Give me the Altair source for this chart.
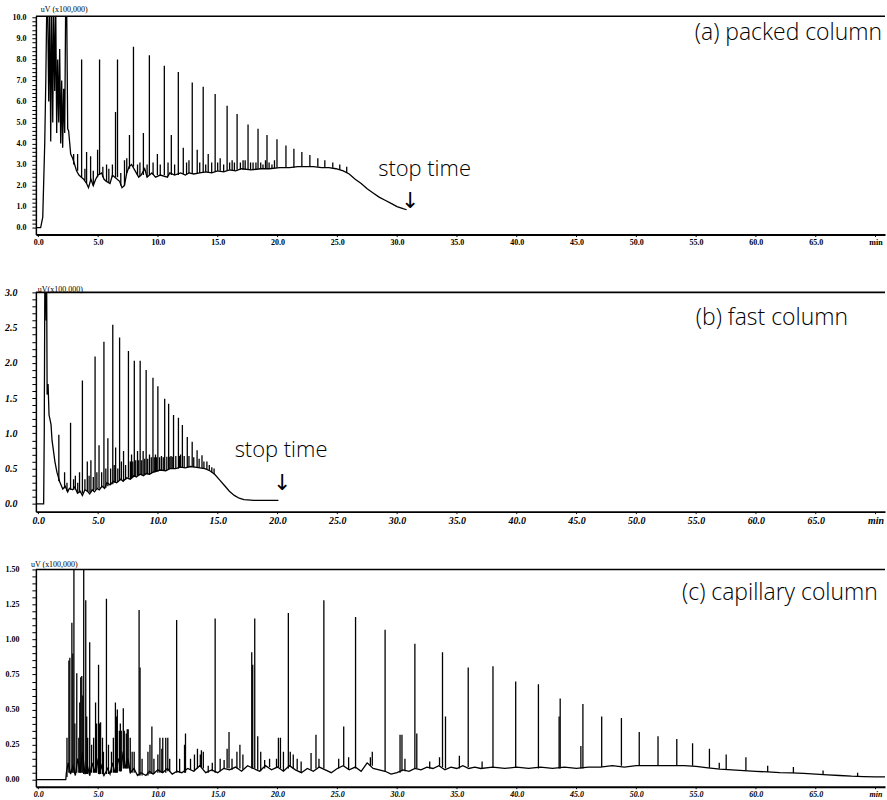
import altair as alt
import pandas as pd

# ---------------- shared x axis ----------------
X_TICKS = [0, 5, 10, 15, 20, 25, 30, 35, 40, 45, 50, 55, 60, 65, 70]
X_DOMAIN = [-0.2, 70.8]
W = 852

# ---------------- (a) packed column ----------------
A_TRACE = [(-0.2, 0.0), (0.2, 0.0), (0.375, 0.5), (0.54, 4.0), (0.63, 7.0), (0.71, 10.5), (0.79, 10.5),
           (0.875, 6.0), (0.96, 10.5), (1.04, 4.1), (1.125, 10.5), (1.21, 5.0), (1.29, 10.5), (1.375, 6.5),
           (1.46, 10.5), (1.54, 4.5), (1.625, 8.0), (1.71, 5.0), (1.79, 8.5), (1.875, 4.0), (1.96, 7.0),
           (2.04, 3.8), (2.125, 6.6), (2.21, 4.5), (2.29, 10.5), (2.375, 10.5), (2.46, 4.7), (2.54, 4.6),
           (2.71, 3.5), (2.875, 3.3), (3.04, 3.0), (3.2, 2.7), (3.4, 2.5), (3.6, 2.4), (3.8, 2.3), (4.04, 2.1),
           (4.2, 1.9), (4.4, 2.3), (4.6, 2.0), (4.8, 2.3), (5.0, 2.5), (5.3, 2.6), (5.5, 2.3), (5.7, 2.2),
           (6.0, 2.1), (6.2, 2.5), (6.4, 2.4), (6.8, 2.2), (7.0, 1.9), (7.2, 2.0), (7.4, 2.6), (7.6, 2.9),
           (7.8, 3.0), (8.1, 2.7), (8.4, 2.4), (8.6, 2.5), (8.9, 2.8), (9.1, 2.4), (9.5, 2.6), (9.8, 2.4),
           (10.2, 2.5), (10.8, 2.4), (11.0, 2.6), (11.4, 2.5), (11.9, 2.6), (12.3, 2.5), (12.6, 2.6),
           (13.0, 2.55), (13.5, 2.6), (14.0, 2.65), (14.5, 2.6), (15.0, 2.7), (15.5, 2.65), (16.0, 2.75),
           (16.5, 2.7), (17.0, 2.8), (17.8, 2.75), (18.6, 2.8), (19.3, 2.8), (20.2, 2.85), (21.0, 2.85),
           (21.7, 2.9), (22.4, 2.9), (23.0, 2.9), (23.7, 2.85), (24.3, 2.85), (24.9, 2.8), (25.5, 2.7),
           (26.0, 2.55), (26.5, 2.3), (27.0, 2.1), (27.5, 1.85), (28.0, 1.65), (28.5, 1.45), (29.0, 1.3),
           (29.5, 1.15), (30.0, 1.0), (30.5, 0.9), (30.8, 0.85)]
# (retention time, peak top, peak base)
A_PEAKS = [(2.96, 3.5, 3.0), (3.29, 3.5, 2.7), (3.625, 8.0, 2.4), (4.04, 3.6, 2.1), (4.375, 3.4, 2.2),
           (4.96, 3.7, 2.4), (5.125, 8.0, 2.5), (5.71, 3.0, 2.2), (6.2, 3.0, 2.4), (6.46, 5.5, 2.4),
           (6.625, 8.0, 2.4), (7.21, 3.2, 2.0), (7.625, 4.4, 2.8), (7.96, 8.6, 2.9), (8.79, 4.5, 2.5),
           (9.29, 8.2, 2.5), (9.96, 3.5, 2.5), (10.54, 7.7, 2.5), (11.125, 4.4, 2.5), (11.71, 7.4, 2.5),
           (12.125, 3.8, 2.55), (12.875, 6.9, 2.6), (13.29, 3.7, 2.6), (13.79, 6.7, 2.6), (14.21, 3.5, 2.6),
           (14.79, 6.35, 2.65), (15.21, 3.3, 2.7), (15.79, 5.8, 2.7), (16.21, 3.2, 2.7), (16.625, 5.4, 2.75),
           (17.125, 3.2, 2.75), (17.54, 4.9, 2.75), (17.96, 3.1, 2.75), (18.375, 4.7, 2.8), (18.79, 3.0, 2.8),
           (19.125, 4.4, 2.8), (19.54, 3.0, 2.8), (19.96, 4.2, 2.85), (20.71, 3.9, 2.85), (21.375, 3.75, 2.85),
           (22.04, 3.6, 2.9), (22.71, 3.45, 2.9), (23.375, 3.3, 2.9), (23.96, 3.2, 2.85), (24.625, 3.1, 2.85),
           (25.21, 3.0, 2.75), (25.79, 2.9, 2.6),
           # small baseline peaks
           (3.9, 2.8, 2.25), (4.6, 2.7, 2.0), (5.4, 2.9, 2.4), (5.9, 2.8, 2.15), (6.9, 2.6, 2.0),
           (7.4, 3.3, 2.6), (8.3, 3.0, 2.5), (8.5, 3.1, 2.45), (9.1, 3.0, 2.4), (9.6, 3.1, 2.5),
           (10.2, 3.0, 2.5), (10.85, 3.1, 2.45), (11.4, 3.0, 2.5), (12.4, 3.1, 2.55), (12.6, 3.2, 2.6),
           (13.5, 3.1, 2.6), (14.0, 3.0, 2.65), (14.5, 3.1, 2.6), (15.0, 3.1, 2.7), (15.5, 3.0, 2.65),
           (16.0, 3.1, 2.75), (16.4, 3.1, 2.7), (16.9, 3.1, 2.75), (17.3, 3.2, 2.78), (17.75, 3.1, 2.75),
           (18.2, 3.1, 2.78), (18.6, 3.1, 2.8), (19.0, 3.2, 2.8), (19.3, 3.1, 2.8), (19.75, 3.2, 2.82)]
A_Y_TICKS = [round(i * 0.2, 1) for i in range(51)]

# ---------------- (b) fast column ----------------
B_TRACE = [(-0.2, 0.0), (0.45, 0.0), (0.5, 1.0), (0.55, 3.2), (0.62, 3.2), (0.66, 2.6), (0.7, 3.2),
           (0.74, 1.55), (0.82, 1.7), (0.9, 1.26), (0.98, 1.2), (1.07, 1.12), (1.15, 0.9), (1.25, 0.78),
           (1.39, 0.6), (1.56, 0.45), (1.8, 0.31), (2.05, 0.21), (2.25, 0.25), (2.46, 0.17), (2.6, 0.22),
           (2.87, 0.2), (3.05, 0.24), (3.28, 0.15), (3.5, 0.18), (3.69, 0.12), (3.9, 0.2), (4.1, 0.18),
           (4.3, 0.14), (4.51, 0.2), (4.7, 0.17), (4.92, 0.22), (5.1, 0.2), (5.33, 0.25), (5.55, 0.22),
           (5.74, 0.3), (6.0, 0.27), (6.3, 0.32), (6.56, 0.3), (6.9, 0.35), (7.1, 0.32), (7.38, 0.37),
           (7.7, 0.35), (8.0, 0.4), (8.2, 0.38), (8.5, 0.42), (8.8, 0.4), (9.02, 0.43), (9.3, 0.42),
           (9.6, 0.45), (9.84, 0.46), (10.2, 0.48), (10.66, 0.47), (11.0, 0.5), (11.48, 0.5), (11.9, 0.52),
           (12.3, 0.51), (12.7, 0.53), (13.1, 0.52), (13.5, 0.51), (13.93, 0.5), (14.34, 0.47), (14.75, 0.42),
           (15.16, 0.34), (15.57, 0.26), (15.98, 0.18), (16.39, 0.12), (16.8, 0.08), (17.2, 0.06),
           (18.03, 0.05), (20.08, 0.05)]
B_PEAKS = [(1.72, 0.98, 0.32), (2.2, 0.45, 0.22), (2.7, 1.15, 0.2), (3.1, 0.4, 0.2), (3.45, 0.45, 0.16),
           (3.69, 1.75, 0.15), (4.1, 0.6, 0.18), (4.4, 0.62, 0.16), (4.75, 2.09, 0.2), (5.08, 0.83, 0.22),
           (5.49, 2.3, 0.24), (5.82, 0.93, 0.25), (6.23, 2.54, 0.28), (6.47, 0.8, 0.3), (6.8, 2.36, 0.33),
           (7.13, 0.75, 0.33), (7.54, 2.17, 0.37), (7.8, 0.7, 0.36), (8.03, 2.03, 0.38), (8.3, 0.75, 0.4),
           (8.52, 2.03, 0.41), (8.77, 0.75, 0.41), (9.02, 1.9, 0.43), (9.3, 0.7, 0.42), (9.59, 1.79, 0.44),
           (9.8, 0.7, 0.45), (10.0, 1.67, 0.46), (10.3, 0.68, 0.47), (10.57, 1.49, 0.47), (10.9, 1.42, 0.48),
           (11.1, 0.68, 0.5), (11.31, 1.26, 0.5), (11.72, 1.22, 0.5), (11.9, 0.7, 0.52), (12.05, 1.12, 0.52),
           (12.46, 0.95, 0.51), (12.87, 0.88, 0.53), (13.28, 0.76, 0.52), (13.69, 0.69, 0.51),
           (14.1, 0.6, 0.49), (14.51, 0.52, 0.45),
           # small baseline peaks
           (2.4, 0.3, 0.18), (2.95, 0.35, 0.2), (3.3, 0.3, 0.15), (3.9, 0.35, 0.2), (4.25, 0.4, 0.16),
           (4.6, 0.38, 0.18), (4.9, 0.45, 0.22), (5.3, 0.45, 0.24), (5.65, 0.5, 0.23), (6.05, 0.5, 0.27),
           (6.35, 0.55, 0.3), (6.65, 0.5, 0.31), (6.95, 0.6, 0.34), (7.3, 0.55, 0.34), (7.7, 0.6, 0.35),
           (7.9, 0.6, 0.37), (8.15, 0.62, 0.38), (8.4, 0.62, 0.4), (8.65, 0.62, 0.41), (8.9, 0.64, 0.41),
           (9.15, 0.64, 0.42), (9.45, 0.66, 0.43), (9.7, 0.66, 0.45), (9.9, 0.66, 0.46), (10.15, 0.66, 0.47),
           (10.45, 0.66, 0.47), (10.75, 0.67, 0.48), (11.0, 0.67, 0.5), (11.2, 0.67, 0.5), (11.5, 0.68, 0.5),
           (11.8, 0.68, 0.52), (12.2, 0.68, 0.51), (12.6, 0.68, 0.52), (13.0, 0.66, 0.52), (13.45, 0.64, 0.51),
           (13.85, 0.6, 0.5), (14.3, 0.55, 0.47), (14.7, 0.5, 0.42)]
B_Y_TICKS = [round(i * 0.1, 1) for i in range(31)]

# ---------------- (c) capillary column ----------------
C_TRACE = [(-0.2, 0.0), (2.3, 0.0), (2.35, 0.05), (2.5, 0.12), (2.7, 0.04), (2.9, 0.1), (3.1, 0.03),
           (3.3, 0.15), (3.5, 0.05), (3.7, 0.2), (3.9, 0.04), (4.1, 0.1), (4.3, 0.03), (4.5, 0.12), (4.7, 0.05),
           (4.9, 0.15), (5.1, 0.04), (5.3, 0.1), (5.5, 0.03), (5.8, 0.08), (6.0, 0.04), (6.2, 0.12),
           (6.4, 0.05), (6.7, 0.15), (6.9, 0.06), (7.1, 0.2), (7.3, 0.08), (7.5, 0.15), (7.7, 0.05),
           (8.0, 0.08), (8.3, 0.03), (8.6, 0.05), (9.0, 0.03), (9.3, 0.06), (9.6, 0.04), (10.0, 0.07),
           (10.4, 0.05), (10.8, 0.08), (11.2, 0.04), (11.6, 0.06), (12.0, 0.05), (12.5, 0.08), (13.0, 0.06),
           (13.5, 0.1), (14.0, 0.05), (14.5, 0.07), (15.0, 0.05), (15.5, 0.08), (16.0, 0.07), (16.5, 0.09),
           (17.0, 0.06), (17.5, 0.1), (18.0, 0.08), (18.5, 0.06), (19.0, 0.1), (19.5, 0.07), (20.0, 0.09),
           (20.5, 0.06), (21.0, 0.1), (21.5, 0.07), (22.0, 0.05), (22.5, 0.08), (23.0, 0.06), (23.5, 0.09),
           (24.0, 0.07), (24.5, 0.05), (25.0, 0.08), (25.5, 0.1), (26.0, 0.07), (26.5, 0.09), (27.0, 0.06),
           (27.5, 0.12), (28.0, 0.08), (28.5, 0.07), (29.0, 0.06), (29.5, 0.04), (30.0, 0.05), (30.5, 0.07),
           (31.0, 0.06), (31.5, 0.08), (32.0, 0.07), (32.5, 0.09), (33.0, 0.08), (33.5, 0.1), (34.0, 0.07),
           (34.5, 0.09), (35.0, 0.08), (35.5, 0.1), (36.0, 0.08), (36.5, 0.09), (37.0, 0.08), (38.0, 0.09),
           (39.0, 0.08), (40.0, 0.09), (41.0, 0.08), (42.0, 0.09), (43.0, 0.08), (44.0, 0.09), (45.0, 0.08),
           (46.0, 0.09), (47.0, 0.09), (48.0, 0.1), (49.0, 0.09), (50.0, 0.1), (51.0, 0.1), (52.0, 0.1),
           (53.0, 0.1), (54.0, 0.1), (55.0, 0.095), (56.0, 0.085), (57.0, 0.075), (58.0, 0.07), (59.0, 0.065),
           (60.0, 0.06), (61.0, 0.055), (62.0, 0.05), (63.0, 0.048), (64.0, 0.045), (65.0, 0.04),
           (66.0, 0.035), (67.0, 0.03), (68.0, 0.025), (69.0, 0.022), (70.0, 0.02), (70.8, 0.02)]
C_PEAKS = [(2.4, 0.3, 0.02), (2.56, 0.85, 0.05), (2.64, 0.87, 0.05), (2.81, 1.12, 0.05), (2.89, 0.9, 0.05),
           (2.98, 1.6, 0.05), (3.06, 0.4, 0.04), (3.22, 0.76, 0.05), (3.39, 0.3, 0.05), (3.47, 0.55, 0.05),
           (3.55, 0.73, 0.05), (3.64, 0.74, 0.05), (3.72, 0.6, 0.05), (3.8, 1.6, 0.04), (3.97, 1.28, 0.04),
           (4.05, 0.45, 0.04), (4.13, 0.3, 0.04), (4.3, 0.98, 0.03), (4.46, 0.25, 0.05), (4.63, 0.3, 0.05),
           (4.79, 0.55, 0.05), (4.88, 0.4, 0.05), (5.04, 0.82, 0.04), (5.12, 0.4, 0.04), (5.21, 0.41, 0.04),
           (5.37, 0.3, 0.04), (5.45, 0.2, 0.03), (5.7, 1.29, 0.04), (5.87, 0.25, 0.04), (6.12, 0.2, 0.05),
           (6.28, 0.3, 0.05), (6.45, 0.55, 0.05), (6.53, 0.45, 0.05), (6.61, 0.5, 0.05), (6.78, 0.35, 0.06),
           (6.86, 0.4, 0.06), (6.94, 0.35, 0.06), (7.11, 0.51, 0.08), (7.19, 0.35, 0.08), (7.36, 0.33, 0.08),
           (7.44, 0.36, 0.08), (7.52, 0.36, 0.08), (7.69, 0.3, 0.05), (7.85, 0.2, 0.05), (8.02, 0.2, 0.05),
           (8.43, 1.21, 0.03), (8.51, 0.8, 0.03), (8.68, 0.15, 0.03), (9.17, 0.2, 0.03), (9.34, 0.25, 0.04),
           (9.5, 0.38, 0.04), (9.67, 0.15, 0.04), (10.0, 0.18, 0.05), (10.17, 0.3, 0.05), (10.33, 0.22, 0.05),
           (10.41, 0.3, 0.05), (10.66, 0.3, 0.05), (10.83, 0.3, 0.06), (10.99, 0.15, 0.06), (11.57, 1.14, 0.05),
           (11.82, 0.15, 0.05), (12.23, 0.25, 0.05), (12.31, 0.33, 0.05), (12.73, 0.15, 0.07),
           (13.06, 0.18, 0.06), (13.31, 0.22, 0.08), (13.55, 0.18, 0.09), (13.64, 0.21, 0.09),
           (13.8, 0.2, 0.08), (14.21, 0.1, 0.05), (14.55, 0.12, 0.06), (14.79, 1.15, 0.05), (15.21, 0.15, 0.06),
           (15.54, 0.14, 0.08), (15.79, 0.22, 0.08), (15.95, 0.34, 0.08), (16.2, 0.15, 0.07), (16.61, 0.2, 0.08),
           (16.86, 0.25, 0.08), (17.11, 0.18, 0.07), (17.85, 0.91, 0.08), (17.93, 0.82, 0.08), (18.1, 1.15, 0.08),
           (18.35, 0.31, 0.07), (18.6, 0.2, 0.06), (18.93, 0.14, 0.08), (19.34, 0.15, 0.09), (19.92, 0.15, 0.09),
           (20.08, 0.3, 0.09), (20.25, 0.3, 0.08), (20.5, 0.2, 0.06), (20.91, 1.19, 0.08), (21.07, 0.2, 0.09),
           (21.32, 0.18, 0.08), (21.65, 0.15, 0.07), (21.98, 0.13, 0.05), (22.81, 0.19, 0.07), (23.22, 0.32, 0.08),
           (23.47, 0.15, 0.09), (23.88, 1.28, 0.08), (25.12, 0.15, 0.08), (25.54, 0.38, 0.1), (25.95, 0.16, 0.07),
           (26.53, 1.16, 0.08), (27.77, 0.16, 0.1), (27.93, 0.2, 0.1), (29.0, 1.07, 0.06), (30.25, 0.32, 0.05),
           (30.41, 0.32, 0.06), (30.66, 0.15, 0.06), (31.49, 0.97, 0.08), (31.65, 0.33, 0.08), (32.73, 0.13, 0.08),
           (33.55, 0.16, 0.1), (33.8, 0.91, 0.09), (34.05, 0.45, 0.08), (35.21, 0.17, 0.08), (35.95, 0.8, 0.09),
           (37.11, 0.13, 0.08), (38.02, 0.81, 0.09), (39.92, 0.7, 0.09), (41.82, 0.68, 0.08), (43.55, 0.45, 0.08),
           (43.64, 0.58, 0.08), (45.37, 0.24, 0.08), (45.54, 0.54, 0.08), (47.11, 0.45, 0.09), (48.76, 0.44, 0.1),
           (50.25, 0.34, 0.1), (51.82, 0.31, 0.1), (53.39, 0.29, 0.1), (54.71, 0.26, 0.1), (56.12, 0.22, 0.085),
           (56.94, 0.12, 0.08), (57.52, 0.18, 0.075), (59.17, 0.16, 0.065), (60.99, 0.1, 0.055),
           (63.14, 0.09, 0.048), (65.62, 0.065, 0.04), (68.51, 0.05, 0.025)]
C_Y_TICKS = [round(i * 0.05, 2) for i in range(31)]

LABELS = ["(a) packed column", "(b) fast column", "(c) capillary column"]
UNIT = ["uV (x100,000)", "uV(x100,000)", "uV (x100,000)"]
STOP = "stop time"
ARROW = "\u2193"

SERIF = "Liberation Serif"
SANS = "Open Sans"


def make_panel(trace, peaks, ydom, yticks, major, yfmt, height, yfs, ystyle, ypad, xfs, xstyle,
               label, label_t, label_v, unit, unit_x, unit_y, stop=None):
    xs = alt.Scale(domain=X_DOMAIN, nice=False, zero=False)
    ys = alt.Scale(domain=ydom, nice=False, zero=False)
    xaxis = alt.Axis(values=X_TICKS,
                     labelExpr="datum.value == 70 ? 'min' : format(datum.value, '.1f')",
                     title=None, grid=False, tickSize=2, tickColor="black", domainColor="black",
                     domainWidth=2, labelFont=SERIF, labelFontSize=xfs, labelFontWeight="bold",
                     labelFontStyle=xstyle, labelColor="black", labelPadding=2, labelFlush=False,
                     labelOverlap=False)
    yaxis = alt.Axis(values=yticks,
                     labelExpr=f"({major}) ? format(datum.value, '{yfmt}') : ''",
                     title=None, grid=False, tickSize=4, tickColor="black", tickWidth=1,
                     domainColor="black", domainWidth=1.5, labelFont=SERIF, labelFontSize=yfs,
                     labelFontWeight="bold", labelFontStyle=ystyle, labelColor="black",
                     labelPadding=ypad, labelFlush=False, labelOverlap=False)
    X = alt.X("t:Q", scale=xs, axis=xaxis)
    Y = lambda f: alt.Y(f, scale=ys, axis=yaxis)
    tr = pd.DataFrame(trace, columns=["t", "v"])
    pk = pd.DataFrame(peaks, columns=["t", "top", "base"])

    line = alt.Chart(tr).mark_line(color="black", strokeWidth=1.3, clip=True).encode(x=X, y=Y("v:Q"))
    spikes = alt.Chart(pk).mark_rule(color="black", strokeWidth=1.3, clip=True).encode(
        x=X, y=Y("base:Q"), y2="top:Q")
    frame = alt.Chart(pd.DataFrame({"v": [ydom[1]]})).mark_rule(color="black", strokeWidth=1.6).encode(
        y=Y("v:Q"))
    lab = alt.Chart(pd.DataFrame({"t": [label_t], "v": [label_v], "s": [label]})).mark_text(
        align="right", baseline="middle", font=SANS, fontWeight=300, fontSize=23, color="black").encode(
        x=X, y=Y("v:Q"), text="s:N")
    unit_txt = alt.Chart(pd.DataFrame({"s": [unit]})).mark_text(
        align="left", baseline="middle", font=SERIF, fontSize=8, color="black").encode(
        x=alt.value(unit_x), y=alt.value(unit_y), text="s:N")
    layers = [line, spikes, frame, lab, unit_txt]
    if stop is not None:
        (st, sv, at, av) = stop
        layers.append(alt.Chart(pd.DataFrame({"t": [st], "v": [sv], "s": [STOP]})).mark_text(
            align="center", baseline="middle", font=SANS, fontWeight=300, fontSize=22, color="black").encode(
            x=X, y=Y("v:Q"), text="s:N"))
        layers.append(alt.Chart(pd.DataFrame({"t": [at], "v": [av], "s": [ARROW]})).mark_text(
            align="center", baseline="middle", font="DejaVu Sans", fontSize=22, color="black").encode(
            x=X, y=Y("v:Q"), text="s:N"))
    return alt.layer(*layers).properties(width=W, height=height)


pa = make_panel(A_TRACE, A_PEAKS, [-0.33, 10.05], A_Y_TICKS,
                "abs(datum.value - round(datum.value)) < 0.001", ".1f", 219,
                8, "normal", 6, 8, "normal",
                LABELS[0], 70.55, 9.25, UNIT[0], 5, -6, stop=(32.3, 2.8, 31.1, 1.28))
pb = make_panel(B_TRACE, B_PEAKS, [-0.11, 3.0], B_Y_TICKS,
                "abs(datum.value * 2 - round(datum.value * 2)) < 0.001", ".1f", 220,
                10, "italic", 15, 10, "italic",
                LABELS[1], 67.7, 2.64, UNIT[1], 2, -2, stop=(20.3, 0.77, 20.4, 0.3))
pc = make_panel(C_TRACE, C_PEAKS, [-0.05, 1.5], C_Y_TICKS,
                "abs(datum.value * 4 - round(datum.value * 4)) < 0.001", ".2f", 218,
                8, "normal", 13, 8, "italic",
                LABELS[2], 70.2, 1.33, UNIT[2], -5, -4)

chart = alt.vconcat(pa, pb, pc, spacing=58, bounds="flush").properties(
    padding={"left": 4, "top": 4, "right": 0, "bottom": 0}
).configure(background="white").configure_view(stroke="transparent")

chart.save("out.html", embed_options={"renderer": "svg", "actions": False})
